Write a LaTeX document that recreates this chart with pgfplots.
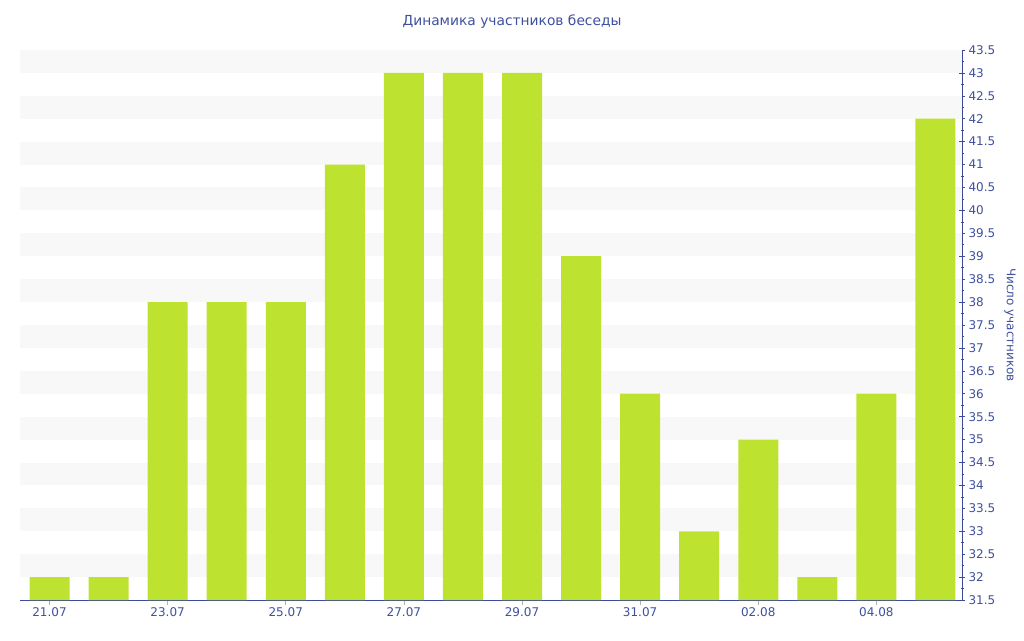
\documentclass[border=0pt]{standalone}
\usepackage{pgfplots}
\pgfplotsset{compat=1.18}
\usepackage{fontspec}
\setmainfont{DejaVu Sans}
\definecolor{barc}{RGB}{189,226,48}
\definecolor{txtc}{RGB}{62,80,158}
\definecolor{axc}{RGB}{60,76,150}
\definecolor{band}{RGB}{248,248,248}
\begin{document}
\begin{tikzpicture}
\path[use as bounding box] (-20pt,-40pt) rectangle (1004pt,600pt);
\begin{axis}[
  at={(0,0)}, anchor=south west,
  scale only axis, width=942pt, height=550pt,
  xmin=-0.5, xmax=15.45,
  ymin=31.5, ymax=43.5,
  axis x line*=bottom, axis y line*=right,
  axis line style={axc, line width=0.8pt},
  ybar, bar width=40pt,
  xtick={0,2,4,6,8,10,12,14},
  xticklabels={21.07,23.07,25.07,27.07,29.07,31.07,02.08,04.08},
  ytick={31.5,32,...,43.5},
  minor y tick num=1,
  tick align=center,
  major tick length=6pt, minor tick length=3pt,
  y tick style={axc, line width=0.6pt},
  x tick style={gray!60, line width=0.6pt, yshift=-2pt},
  xtick pos=bottom,
  ytick pos=right,
  yticklabel pos=right,
  /pgf/number format/assume math mode=true,
  ticklabel style={font=\fontsize{12}{14}\selectfont, text=txtc},
  yticklabel style={anchor=west, xshift=0pt},
  xticklabel style={yshift=-1pt},
  clip=false,
]
\pgfplotsinvokeforeach{32,33,34,35,36,37,38,39,40,41,42,43}{
  \fill[band] (axis cs:-0.5,#1) rectangle (axis cs:15.45,#1.5);
}
\addplot[fill=barc, draw=none] coordinates {
(0,32) (1,32) (2,38) (3,38) (4,38) (5,41) (6,43) (7,43)
(8,43) (9,39) (10,36) (11,33) (12,35) (13,32) (14,36) (15,42)
};
\node[font=\fontsize{12}{14}\selectfont, text=txtc, rotate=-90, anchor=center]
  at ([xshift=48pt]axis description cs:1,0.5) {Число участников};
\node[font=\fontsize{13.8}{16}\selectfont, text=txtc, anchor=center]
  at ([xshift=21pt,yshift=28pt]axis description cs:0.5,1) {Динамика участников беседы};
\end{axis}
\end{tikzpicture}
\end{document}
